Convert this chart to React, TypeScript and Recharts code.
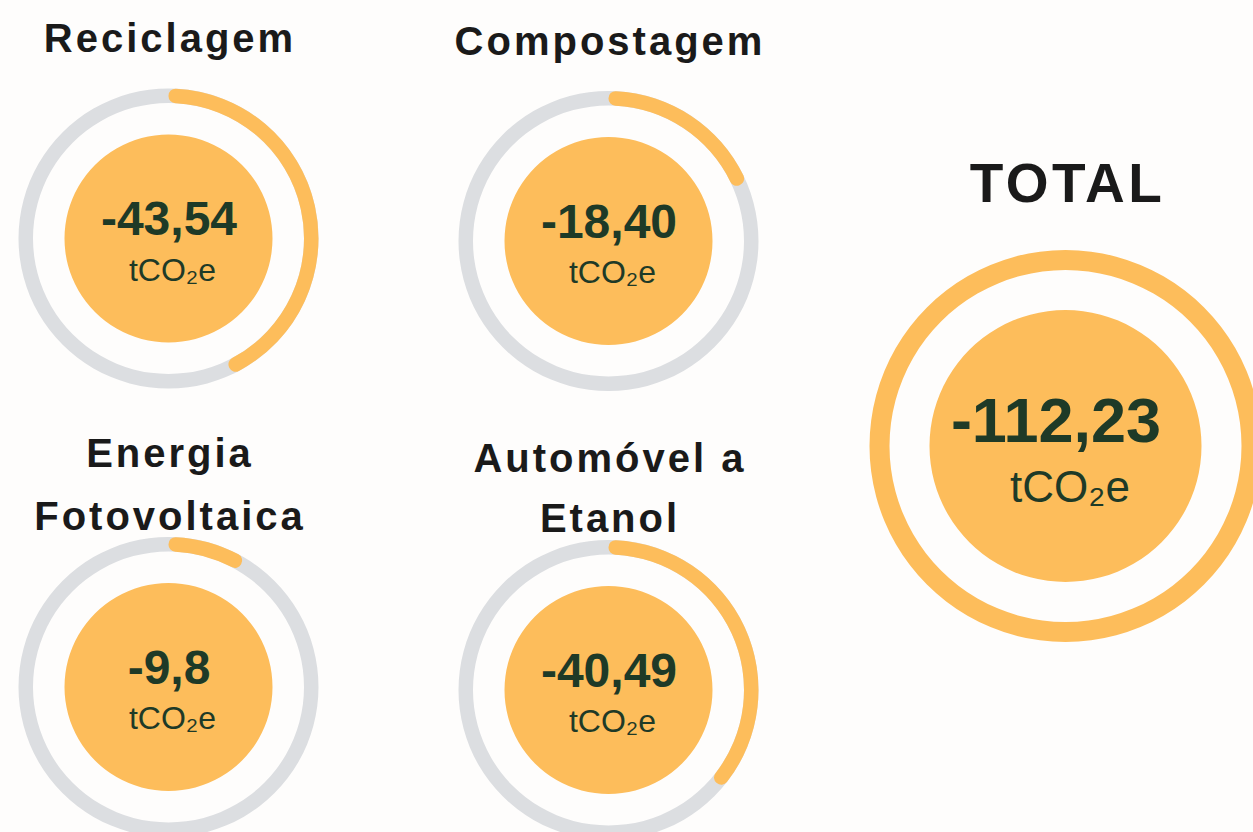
import React from "react";
import { PieChart, Pie, Cell } from "recharts";

// gauge data
const titleLines = [
  ["Reciclagem"],
  ["Compostagem"],
  ["Energia", "Fotovoltaica"],
  ["Automóvel a", "Etanol"],
];
const values = [-43.54, -18.4, -9.8, -40.49];
const valueLabels = ["-43,54", "-18,40", "-9,8", "-40,49"];
// share of the ring that is filled (%)
const arcShare = [43, 18.6, 8.5, 36.3];
const totalTitle = "TOTAL";
const totalValue = -112.23;
const totalLabel = "-112,23";
const unit = "tCO₂e";

const ORANGE = "#fdbd5b";
const GREY = "#dcdee1";
const TITLE = "#1a1a1a";
const GREEN = "#1e3a27";
const FONT = "'Liberation Sans', Arial, sans-serif";

// placement of each small gauge: centre + title baselines
const layout = [
  { cx: 168.5, cy: 238.5, titleY: [52] },
  { cx: 608.5, cy: 241, titleY: [55] },
  { cx: 168.5, cy: 687, titleY: [467, 530] },
  { cx: 608.5, cy: 690, titleY: [472, 532] },
];
const totalLayout = { cx: 1065.5, cy: 446, titleY: 202 };

function CenterText(props: {
  cx: number;
  cy: number;
  label: string;
  valueSize: number;
  unitSize: number;
  valueDx: number;
  valueDy: number;
  unitDx: number;
  unitDy: number;
}) {
  const { cx, cy, label, valueSize, unitSize, valueDx, valueDy, unitDx, unitDy } = props;
  return (
    <g fontFamily={FONT} textAnchor="middle" fill={GREEN}>
      <text x={cx + valueDx} y={cy + valueDy} fontSize={valueSize} fontWeight={700}>
        {label}
      </text>
      <text x={cx + unitDx} y={cy + unitDy} fontSize={unitSize}>
        {unit}
      </text>
    </g>
  );
}

export default function App() {
  return (
    <div
      style={{
        position: "absolute",
        left: 0,
        top: 0,
        width: 1253,
        height: 832,
        background: "#fefdfc",
        overflow: "hidden",
      }}
    >
      <PieChart width={1253} height={832} margin={{ top: 0, right: 0, bottom: 0, left: 0 }}>
        {values.map((v, i) => {
          const { cx, cy } = layout[i];
          const arcData = [
            { name: "filled", v: arcShare[i] },
            { name: "rest", v: 100 - arcShare[i] },
          ];
          return (
            <React.Fragment key={i}>
              <Pie
                data={[{ v: 1 }]}
                dataKey="v"
                cx={cx}
                cy={cy}
                innerRadius={135.5}
                outerRadius={150}
                startAngle={90}
                endAngle={-270}
                fill={GREY}
                stroke="none"
                isAnimationActive={false}
              />
              <Pie
                data={arcData}
                dataKey="v"
                cx={cx}
                cy={cy}
                innerRadius={135.5}
                outerRadius={150}
                startAngle={90}
                endAngle={-270}
                cornerRadius={7}
                stroke="none"
                isAnimationActive={false}
              >
                <Cell fill={ORANGE} />
                <Cell fill="none" />
              </Pie>
              <Pie
                data={[{ v: Math.abs(v) }]}
                dataKey="v"
                cx={cx}
                cy={cy}
                innerRadius={0}
                outerRadius={104}
                fill={ORANGE}
                stroke="none"
                isAnimationActive={false}
              />
            </React.Fragment>
          );
        })}

        <Pie
          data={[{ v: Math.abs(totalValue) }]}
          dataKey="v"
          cx={totalLayout.cx}
          cy={totalLayout.cy}
          innerRadius={176}
          outerRadius={196}
          startAngle={90}
          endAngle={-270}
          fill={ORANGE}
          stroke="none"
          isAnimationActive={false}
        />
        <Pie
          data={[{ v: Math.abs(totalValue) }]}
          dataKey="v"
          cx={totalLayout.cx}
          cy={totalLayout.cy}
          innerRadius={0}
          outerRadius={136}
          fill={ORANGE}
          stroke="none"
          isAnimationActive={false}
        />
      </PieChart>

      {/* text overlay, drawn on top of the pies */}
      <svg
        width={1253}
        height={832}
        style={{ position: "absolute", left: 0, top: 0, pointerEvents: "none" }}
      >
        {valueLabels.map((label, i) => (
          <CenterText
            key={`c-${i}`}
            cx={layout[i].cx}
            cy={layout[i].cy}
            label={label}
            valueSize={48}
            unitSize={32}
            valueDx={0.5}
            valueDy={-3.5}
            unitDx={4}
            unitDy={42}
          />
        ))}
        <CenterText
          cx={totalLayout.cx}
          cy={totalLayout.cy}
          label={totalLabel}
          valueSize={63}
          unitSize={44}
          valueDx={-9.5}
          valueDy={-4}
          unitDx={4.5}
          unitDy={56}
        />

        <g fontFamily={FONT} fontWeight={700} fill={TITLE} textAnchor="middle">
          {titleLines.map((lines, i) =>
            lines.map((line, j) => (
              <text
                key={`${i}-${j}`}
                x={layout[i].cx + 1.5}
                y={layout[i].titleY[j]}
                fontSize={40}
                letterSpacing={3}
              >
                {line}
              </text>
            ))
          )}
          <text
            x={totalLayout.cx + 2}
            y={totalLayout.titleY}
            fontSize={55}
            letterSpacing={3.5}
          >
            {totalTitle}
          </text>
        </g>
      </svg>
    </div>
  );
}
